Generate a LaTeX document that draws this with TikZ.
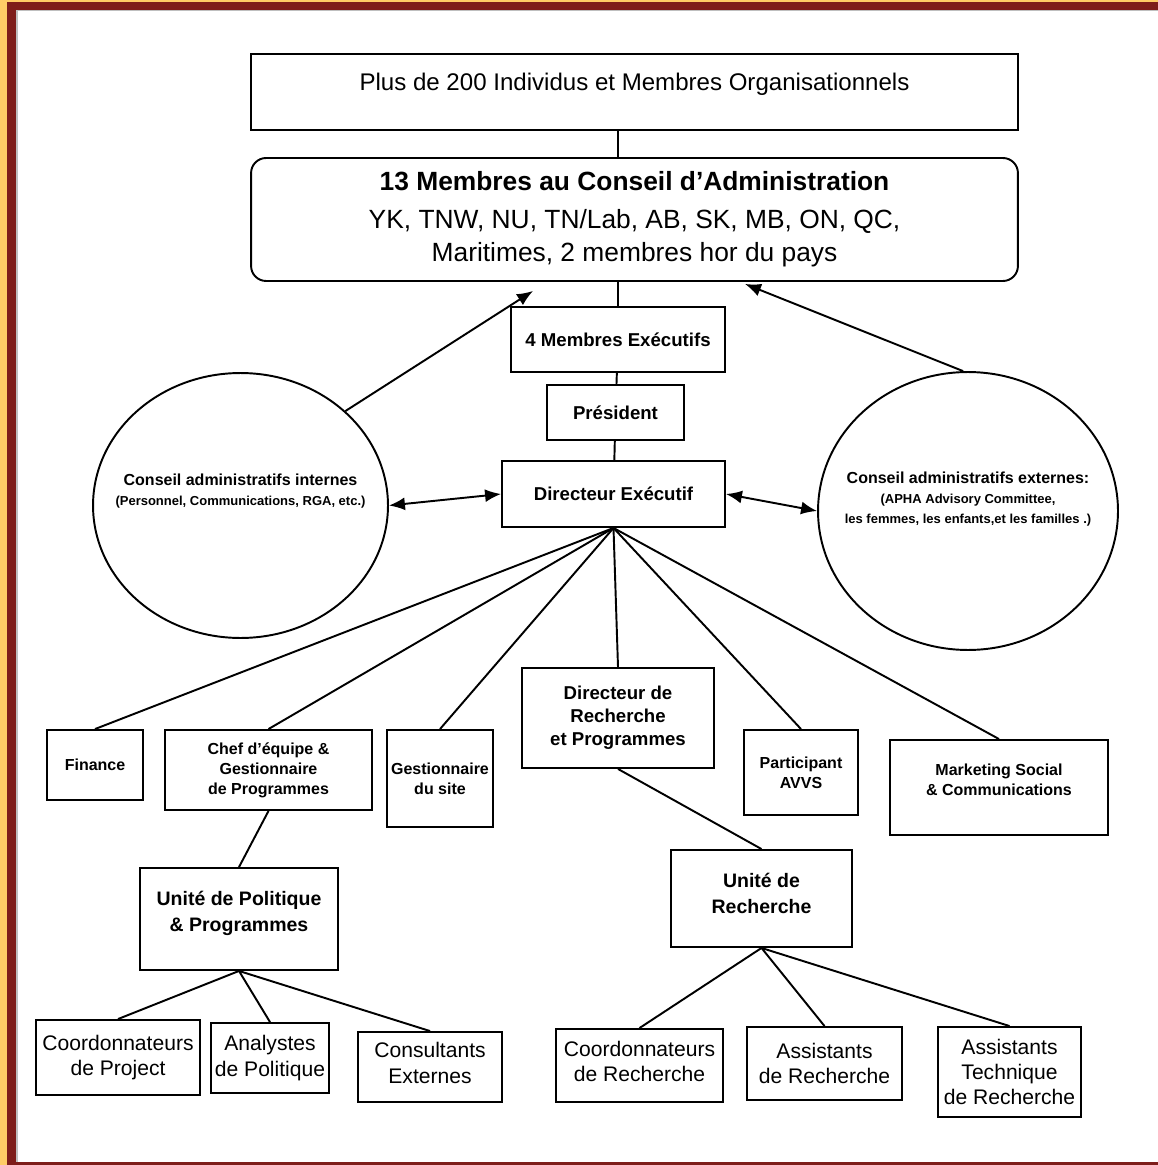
\documentclass[tikz,border=0pt]{standalone}
\usepackage{fontspec}
\setmainfont{Liberation Sans}
\usepackage{xcolor}
\usetikzlibrary{shapes.geometric,arrows.meta}

\definecolor{cadre}{HTML}{7E1D1A}
\definecolor{jaune}{HTML}{FFCC66}
\newcommand{\monte}[2]{\raisebox{#1}[\height][\depth]{#2}}
\newcommand{\menu}{\fontsize{7.4}{9.1}\selectfont}

\begin{document}
\begin{tikzpicture}[x=0.02cm, y=-0.02cm, line width=1.1pt,
  box/.style={draw, rectangle, align=center, inner sep=1pt},
  petit/.style={font=\fontsize{9.1}{11.4}\selectfont\bfseries},
  moyen/.style={font=\fontsize{10.6}{13}\selectfont\bfseries},
  unite/.style={font=\fontsize{11.1}{14.8}\selectfont\bfseries},
  bas/.style={font=\fontsize{12}{14.4}\selectfont},
  fleche/.style={-{Latex[length=0.32cm,width=0.26cm]}},
  fleches/.style={{Latex[length=0.32cm,width=0.26cm]}-{Latex[length=0.32cm,width=0.26cm]}}]
\useasboundingbox (0,0) rectangle (1158,1165);
% cadre
\fill[white] (0,0) rectangle (1158,1165);
\fill[jaune] (0,0) rectangle (7,1165);
\fill[jaune] (0,0) rectangle (1158,2);
\fill[cadre] (7,2) rectangle (16,1165);
\fill[cadre] (7,2) rectangle (1158,10);
\fill[cadre] (7,1162) rectangle (1158,1165);
\fill[gray!50] (16,10) rectangle (17.5,1162);
\fill[gray!50] (16,10) rectangle (1158,11.5);

% conseil et direction
\node[box, minimum width=15.34cm, minimum height=1.52cm, font=\fontsize{13.7}{16}\selectfont] (membres) at (634.5,92) {\monte{4.5pt}{Plus de 200 Individus et Membres Organisationnels}};
\node[box, rounded corners=0.3cm, minimum width=15.34cm, minimum height=2.46cm, font=\fontsize{15}{18.8}\selectfont] (conseil) at (634.5,219.5)
  {\textbf{13 Membres au Conseil d’Administration}\\[3pt] YK, TNW, NU, TN/Lab, AB, SK, MB, ON, QC,\\ Maritimes, 2 membres hor du pays};
\node[box, moyen, minimum width=4.28cm, minimum height=1.3cm] (executifs) at (618,339.5) {4 Membres Exécutifs};
\node[box, moyen, minimum width=2.74cm, minimum height=1.1cm] (president) at (615.5,412.5) {Président};
\node[box, moyen, minimum width=4.46cm, minimum height=1.32cm] (directeur) at (613.5,494) {Directeur Exécutif};

% conseils administratifs
\node[draw, ellipse, inner sep=0pt, minimum width=5.9cm, minimum height=5.3cm] (interne) at (240.5,505.5) {};
\node[align=center, petit] (internetxt) at (240.5,491) {Conseil administratifs internes\\
  \menu (Personnel, Communications, RGA, etc.)};
\node[draw, ellipse, inner sep=0pt, minimum width=6cm, minimum height=5.56cm] (externe) at (968,511) {};
\node[align=center, petit] (externetxt) at (968,499) {Conseil administratifs externes:\\
  \menu (APHA Advisory Committee,\\ \menu les femmes, les enfants,et les familles .)};

% services
\node[box, petit, minimum width=1.92cm, minimum height=1.4cm] (finance) at (95,765) {Finance};
\node[box, petit, minimum width=4.14cm, minimum height=1.6cm] (chef) at (268.5,770) {Chef d’équipe \&\\ Gestionnaire\\ de Programmes};
\node[box, petit, minimum width=2.12cm, minimum height=1.94cm] (site) at (440,778.5) {Gestionnaire\\ du site};
\node[box, moyen, minimum width=3.84cm, minimum height=2cm] (recherche) at (618,718) {Directeur de\\ Recherche\\ et Programmes};
\node[box, petit, minimum width=2.28cm, minimum height=1.7cm] (avvs) at (801,772.5) {Participant\\ AVVS};
\node[box, petit, minimum width=4.36cm, minimum height=1.9cm] (marketing) at (999,787.5) {\monte{4.5pt}{Marketing Social}\\ \monte{4.5pt}{\& Communications}};

% unites
\node[box, unite, minimum width=3.96cm, minimum height=2.04cm] (politique) at (239,919) {\monte{3.4pt}{Unité de Politique}\\ \monte{3.4pt}{\& Programmes}};
\node[box, unite, minimum width=3.62cm, minimum height=1.94cm] (urech) at (761.5,898.5) {\monte{2.8pt}{Unité de}\\ \monte{2.8pt}{Recherche}};

% personnel
\node[box, bas, minimum width=3.28cm, minimum height=1.5cm] (coordproj) at (118,1057.5) {Coordonnateurs\\ de Project};
\node[box, bas, minimum width=2.36cm, minimum height=1.4cm] (analystes) at (270,1058) {Analystes\\ de Politique};
\node[box, bas, minimum width=2.88cm, minimum height=1.4cm] (consultants) at (430,1067) {\monte{2.3pt}{Consultants}\\ \monte{2.3pt}{Externes}};
\node[box, bas, minimum width=3.34cm, minimum height=1.46cm] (coordrech) at (639.5,1065.5) {\monte{2.3pt}{Coordonnateurs}\\ \monte{2.3pt}{de Recherche}};
\node[box, bas, minimum width=3.1cm, minimum height=1.46cm] (assistants) at (824.5,1063.5) {Assistants\\ de Recherche};
\node[box, bas, minimum width=2.86cm, minimum height=1.8cm] (techniques) at (1009.5,1072) {Assistants\\ Technique\\ de Recherche};

% liens
\draw (executifs.north |- membres.south) -- (executifs.north |- conseil.north);
\draw (executifs.north |- conseil.south) -- (executifs.north);
\draw (executifs) -- (president);
\draw (president) -- (directeur);
\draw[fleche] (interne.42) -- ([xshift=-2.03cm,yshift=-0.18cm]conseil.south);
\draw[fleche] (externe.92) -- ([xshift=2.21cm,yshift=-0.04cm]conseil.south);
\draw[fleches] (interne.east) -- (directeur.west);
\draw[fleches] (directeur.east) -- (externe.west);
\foreach \n in {finance,chef,site,recherche,avvs,marketing}
  \draw (directeur.south) -- (\n.north);
\draw (chef.south) -- (politique.north);
\draw (recherche.south) -- (urech.north);
\foreach \n in {coordproj,analystes,consultants}
  \draw (politique.south) -- (\n.north);
\foreach \n in {coordrech,assistants,techniques}
  \draw (urech.south) -- (\n.north);
\end{tikzpicture}
\end{document}
